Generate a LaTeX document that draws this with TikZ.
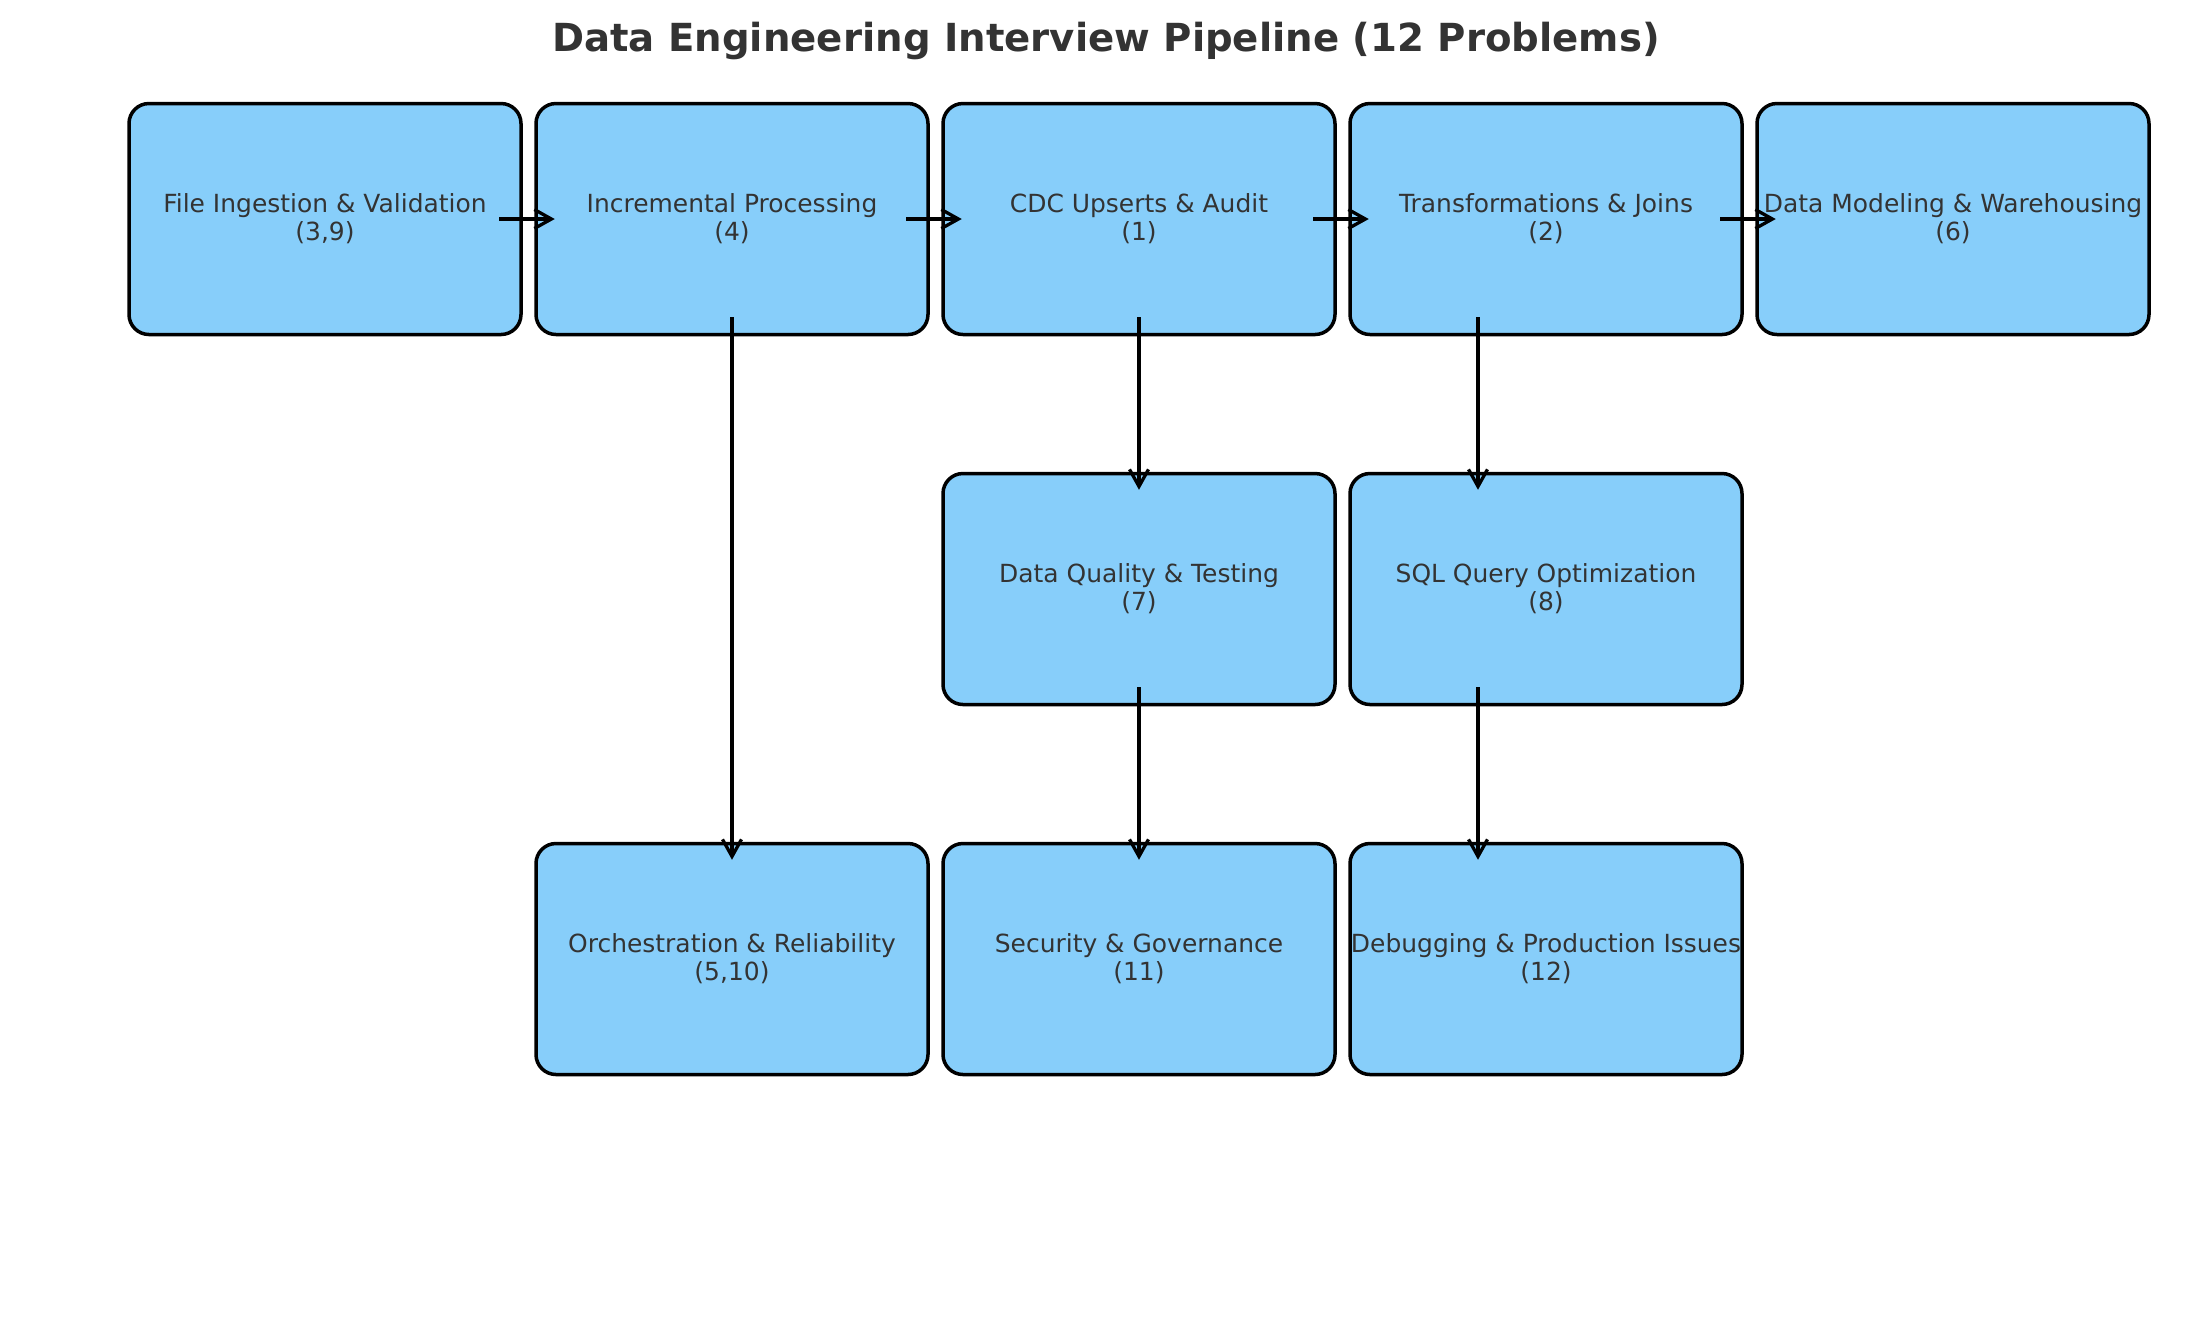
\documentclass[tikz,border=0pt]{standalone}
\usepackage{fontspec}
\setmainfont{DejaVu Sans}
\usepackage{tikz}
\usetikzlibrary{arrows.meta}
\definecolor{colbox}{HTML}{87CEFA}
\definecolor{coltext}{HTML}{333333}
\colorlet{colline}{black}
\tikzstyle{stage}=[rectangle, rounded corners=0.2cm, draw=colline, line width=0.035cm, fill=colbox, minimum width=3.92cm, minimum height=2.31cm, inner sep=0pt, align=center, text=coltext, font=\fontsize{7.1}{8}\selectfont]
\tikzstyle{flow}=[line width=0.033cm, colline, -{Straight Barb[length=0.17cm,width=0.19cm]}]
\tikzstyle{titlesty}=[text=coltext, font=\fontsize{11}{13}\selectfont\bfseries]

\begin{document}
\begin{tikzpicture}[]
      \useasboundingbox (0,0) rectangle (22.10,-13.18);
      \node[titlesty, anchor=base] (title) at (11.06,-0.51) {Data Engineering Interview Pipeline (12 Problems)};

      % Top row
      \node[stage] (a1) at (3.25,-2.19) {File Ingestion \& Validation\\(3,9)};
      \node[stage] (a2) at (7.32,-2.19) {Incremental Processing\\(4)};
      \node[stage] (a3) at (11.39,-2.19) {CDC Upserts \& Audit\\(1)};
      \node[stage] (a4) at (15.46,-2.19) {Transformations \& Joins\\(2)};
      \node[stage] (a5) at (19.53,-2.19) {Data Modeling \& Warehousing\\(6)};

      % Middle row
      \node[stage] (b3) at (11.39,-5.89) {Data Quality \& Testing\\(7)};
      \node[stage] (b4) at (15.46,-5.89) {SQL Query Optimization\\(8)};

      % Bottom row
      \node[stage] (c2) at (7.32,-9.59) {Orchestration \& Reliability\\(5,10)};
      \node[stage] (c3) at (11.39,-9.59) {Security \& Governance\\(11)};
      \node[stage] (c4) at (15.46,-9.59) {Debugging \& Production Issues\\(12)};

      \draw[flow, shorten <=-0.235cm, shorten >=-0.205cm] (a1) -- (a2);
      \draw[flow, shorten <=-0.235cm, shorten >=-0.205cm] (a2) -- (a3);
      \draw[flow, shorten <=-0.235cm, shorten >=-0.205cm] (a3) -- (a4);
      \draw[flow, shorten <=-0.235cm, shorten >=-0.205cm] (a4) -- (a5);

      \draw[flow, shorten <=-0.19cm, shorten >=-0.18cm] (a2) -- (c2);
      \draw[flow, shorten <=-0.19cm, shorten >=-0.18cm] (a3) -- (b3);
      \draw[flow, shorten <=-0.19cm, shorten >=-0.18cm] (b3) -- (c3);
      \draw[flow, shorten <=-0.19cm, shorten >=-0.18cm] ([xshift=-0.68cm]a4.south) -- ([xshift=-0.68cm]b4.north);
      \draw[flow, shorten <=-0.19cm, shorten >=-0.18cm] ([xshift=-0.68cm]b4.south) -- ([xshift=-0.68cm]c4.north);
    \end{tikzpicture}
\end{document}
